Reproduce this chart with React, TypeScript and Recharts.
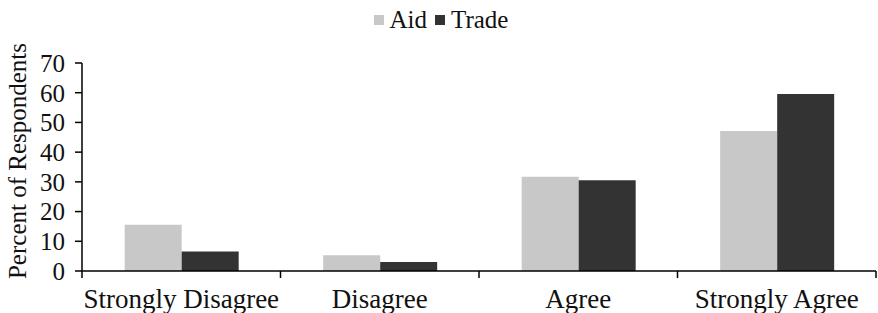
import React from "react"
import { BarChart, Bar, XAxis, YAxis, Legend, Label } from "recharts"

const categories = ["Strongly Disagree", "Disagree", "Agree", "Strongly Agree"]
const aidValues = [15.6, 5.3, 31.7, 47.1]
const tradeValues = [6.6, 3.0, 30.5, 59.6]
const yTicks = [0, 10, 20, 30, 40, 50, 60, 70]

const data = categories.map((name, i) => ({
  name,
  aid: aidValues[i],
  trade: tradeValues[i],
}))

const FONT = "'Liberation Serif', 'Times New Roman', serif"
const AID = "#c8c8c8"
const TRADE = "#333333"

// eslint-disable-next-line @typescript-eslint/no-explicit-any
function CategoryTick({ x, y, payload, index, visibleTicksCount }: any) {
  const half = payload?.offset ?? 99
  const last = index === (visibleTicksCount ?? categories.length) - 1
  return (
    <g>
      <line x1={x - half} x2={x - half} y1={y} y2={y + 7} stroke="#000" strokeWidth={1.5} />
      {last && <line x1={x + half} x2={x + half} y1={y} y2={y + 7} stroke="#000" strokeWidth={1.5} />}
      <text x={x} y={y + 18} dy="0.71em" textAnchor="middle" fill="#111" fontSize={27} fontFamily={FONT}>
        {payload.value}
      </text>
    </g>
  )
}

function LegendContent() {
  const item = (color: string, label: string) => (
    <span style={{ display: "inline-flex", alignItems: "center", marginRight: 8 }}>
      <span style={{ width: 10, height: 10, background: color, display: "inline-block", marginRight: 6 }} />
      <span>{label}</span>
    </span>
  )
  return (
    <div
      style={{
        height: 57,
        display: "flex",
        justifyContent: "center",
        alignItems: "flex-start",
        paddingLeft: 14,
        fontFamily: FONT,
        fontSize: 25,
        lineHeight: "28px",
        color: "#111",
      }}
    >
      {item(AID, "Aid")}
      {item(TRADE, "Trade")}
    </div>
  )
}

// eslint-disable-next-line @typescript-eslint/no-explicit-any
function YLabel({ viewBox }: any) {
  const cx = (viewBox?.x ?? 0) + 17.5
  const cy = (viewBox?.y ?? 63) + (viewBox?.height ?? 208) / 2 - 6
  return (
    <text
      x={cx}
      y={cy}
      transform={`rotate(-90, ${cx}, ${cy})`}
      textAnchor="middle"
      dominantBaseline="central"
      fill="#111"
      fontSize={25}
      fontFamily={FONT}
    >
      Percent of Respondents
    </text>
  )
}

export default function App() {
  return (
    <div style={{ position: "absolute", left: 0, top: 0, background: "#fff" }}>
      <BarChart
        width={878}
        height={313}
        data={data}
        margin={{ top: 6, right: 2, left: 0, bottom: 2 }}
        barCategoryGap="21.5%"
        barGap={0}
      >
        <Legend verticalAlign="top" content={<LegendContent />} />
        <XAxis
          dataKey="name"
          height={40}
          interval={0}
          axisLine={{ stroke: "#000", strokeWidth: 1.5 }}
          tickLine={false}
          tickSize={0}
          tickMargin={0}
          tick={<CategoryTick />}
        />
        <YAxis
          width={82}
          domain={[0, 70]}
          ticks={yTicks}
          interval={0}
          axisLine={{ stroke: "#000", strokeWidth: 1.5 }}
          tickLine={{ stroke: "#000", strokeWidth: 1.5 }}
          tickSize={7}
          tickMargin={10}
          tick={{ fill: "#111", fontSize: 25, fontFamily: FONT }}
        >
          <Label content={<YLabel />} />
        </YAxis>
        <Bar dataKey="aid" name="Aid" fill={AID} isAnimationActive={false} />
        <Bar dataKey="trade" name="Trade" fill={TRADE} isAnimationActive={false} />
      </BarChart>
    </div>
  )
}
